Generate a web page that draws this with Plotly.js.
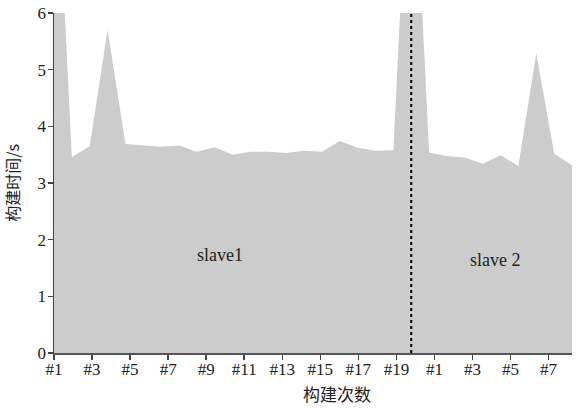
<!DOCTYPE html>
<html>
<head>
<meta charset="utf-8">
<script src="https://cdn.plot.ly/plotly-3.0.1.min.js"></script>
<style>html,body{margin:0;padding:0;background:#fff;}#chart{width:581px;height:408px;}</style>
</head>
<body>
<div id="chart"></div>
<script>
// Build times (s)
const slave1Times = [9.8, 3.46, 3.65, 5.70, 3.69, 3.66, 3.64, 3.66, 3.55, 3.63,
                     3.50, 3.55, 3.55, 3.53, 3.57, 3.55, 3.74, 3.62, 3.57, 3.58];
const slave2Times = [10.0, 3.54, 3.47, 3.45, 3.34, 3.49, 3.30, 5.29, 3.52, 3.31];
const tickLabels = ["#1","#3","#5","#7","#9","#11","#13","#15","#17","#19","#1","#3","#5","#7"];
const groupLabels = ["slave1", "slave 2"];
const yTitle = "构建时间/s";
const xTitle = "构建次数";

const allTimes = slave1Times.concat(slave2Times);
const xIdx = allTimes.map((_, i) => i);
const tickStep = 2.13;
const tickVals = tickLabels.map((_, k) => k * tickStep);
const dividerAt = slave1Times.length;

const serif = "'Liberation Serif', serif";
const cjk = "'Noto Sans CJK SC', sans-serif";

const trace = {
  x: xIdx, y: allTimes, type: "scatter", mode: "lines",
  fill: "tozeroy", fillcolor: "#cccccc",
  line: {width: 0, color: "#cccccc"}, hoverinfo: "skip"
};

const layout = {
  width: 581, height: 408,
  margin: {l: 54, r: 9, t: 13, b: 55},
  paper_bgcolor: "#ffffff", plot_bgcolor: "#ffffff",
  showlegend: false,
  xaxis: {
    range: [0, allTimes.length - 1], tickmode: "array",
    tickvals: tickVals, ticktext: tickLabels,
    ticks: "outside", ticklen: 5, tickwidth: 1.5, tickcolor: "#444",
    ticklabelstandoff: -5,
    showline: true, linecolor: "#555", linewidth: 1.5,
    showgrid: false, zeroline: false,
    tickfont: {family: serif, size: 17, color: "#222"}
  },
  yaxis: {
    range: [0, 6], dtick: 1, tick0: 0,
    ticks: "outside", ticklen: 5, tickwidth: 1.5, tickcolor: "#444",
    ticklabelstandoff: -2,
    showline: true, linecolor: "#444", linewidth: 1.5,
    showgrid: false, zeroline: false,
    tickfont: {family: serif, size: 17, color: "#222"},
    title: {text: yTitle, font: {family: cjk, size: 16, color: "#222"}, standoff: 14}
  },
  shapes: [{
    type: "line", xref: "x", yref: "paper",
    x0: dividerAt, x1: dividerAt, y0: 0, y1: 1,
    line: {color: "#000", width: 2, dash: "dot"}
  }],
  annotations: [
    {text: xTitle, xref: "paper", yref: "paper", x: 0.546, y: -0.118,
     xanchor: "center", yanchor: "middle", showarrow: false,
     font: {family: cjk, size: 17, color: "#222"}},
    {text: groupLabels[0], xref: "x", yref: "y", x: 9.3, y: 1.73,
     showarrow: false, font: {family: serif, size: 18, color: "#222"}},
    {text: groupLabels[1], xref: "x", yref: "y", x: 24.7, y: 1.64,
     showarrow: false, font: {family: serif, size: 18, color: "#222"}}
  ]
};

Plotly.newPlot("chart", [trace], layout, {displayModeBar: false, staticPlot: true});
</script>
</body>
</html>
